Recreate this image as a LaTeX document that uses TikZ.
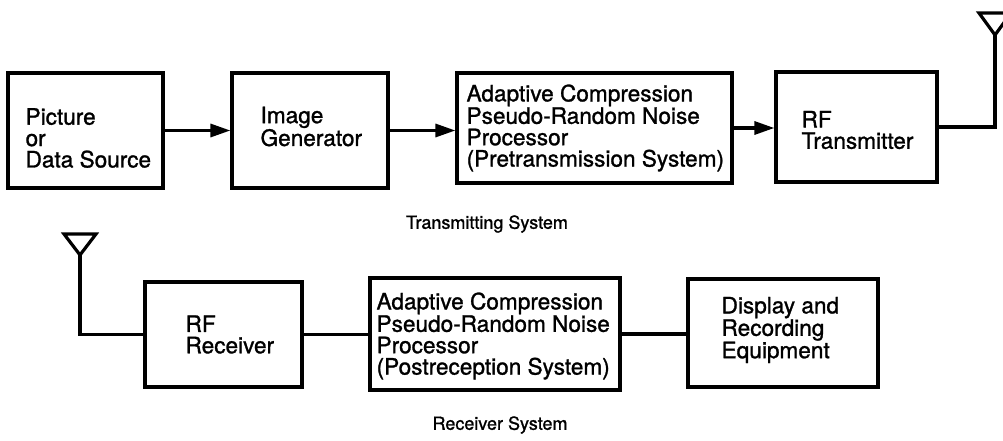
\documentclass[tikz,border=0pt]{standalone}
\usepackage{fontspec}
\setmainfont{TeX Gyre Heros}
\newfontfamily\heavy{TeX Gyre Heros}[FakeBold=1.2]
\usetikzlibrary{arrows.meta,calc}
\tikzset{
  blk/.style={draw, line width=3.2pt, inner sep=0pt, line join=miter},
  txt/.style={inner sep=0pt, align=left, anchor=west, font=\heavy\fontsize{22.6}{21.4}\selectfont},
  captext/.style={inner sep=0pt, font=\heavy\fontsize{18}{20}\selectfont},
  conn/.style={line width=3.2pt},
  arr/.style={line width=3.2pt, -{Triangle[length=20pt,width=13pt]}},
  ant/.style={line width=3.2pt, line join=miter}
}
\begin{document}
\begin{tikzpicture}[x=1pt,y=-1pt]
\useasboundingbox (0,0) rectangle (1003,441);
% top row
\node[blk, minimum width=155pt, minimum height=115pt] (b1) at (85.5,130.5) {};
\node[blk, minimum width=156pt, minimum height=115pt] (b2) at (310,130.5) {};
\node[blk, minimum width=275pt, minimum height=110pt] (b3) at (594.5,128) {};
\node[blk, minimum width=161pt, minimum height=110pt] (b4) at (856.5,127) {};
\node[txt] (t1) at ($(b1.west)+(19,7.5)$) {Picture\\or\\Data Source};
\node[txt] (t2) at ($(b2.west)+(30,-4)$) {Image\\Generator};
\node[txt] (t3) at ($(b3.west)+(11,0)$) {Adaptive Compression\\Pseudo-Random Noise\\Processor\\(Pretransmission System)};
\node[txt] (t4) at ($(b4.west)+(27,3)$) {RF\\Transmitter};
\draw[arr] (b1.east) -- (b1.east -| b2.west);
\draw[arr] (b2.east) -- (b2.east -| b3.west);
\draw[arr] (b3.east) -- (b3.east -| b4.west);
\coordinate (a1) at (995,35);
\draw[ant] (b4.east) -| (a1);
\draw[ant] (a1) -- (979,13) -- (1011,13) -- cycle;
\node[captext] (c1) at (487,224) {Transmitting System};
% bottom row
\node[blk, minimum width=157pt, minimum height=105pt] (b5) at (223.5,334.5) {};
\node[blk, minimum width=250pt, minimum height=112pt] (b6) at (495,334) {};
\node[blk, minimum width=190pt, minimum height=108pt] (b7) at (783,333) {};
\node[txt] (t5) at ($(b5.west)+(42,0)$) {RF\\Receiver};
\node[txt] (t6) at ($(b6.west)+(8,2)$) {Adaptive Compression\\Pseudo-Random Noise\\Processor\\(Postreception System)};
\node[txt] (t7) at ($(b7.west)+(35,-3)$) {Display and\\Recording\\Equipment};
\draw[conn] (b5.east) -- (b5.east -| b6.west);
\draw[conn] (b6.east) -- (b6.east -| b7.west);
\coordinate (a2) at (80,255);
\draw[ant] (b5.west) -| (a2);
\draw[ant] (a2) -- (64,234) -- (96,234) -- cycle;
\node[captext] (c2) at (500,425) {Receiver System};
\end{tikzpicture}
\end{document}
